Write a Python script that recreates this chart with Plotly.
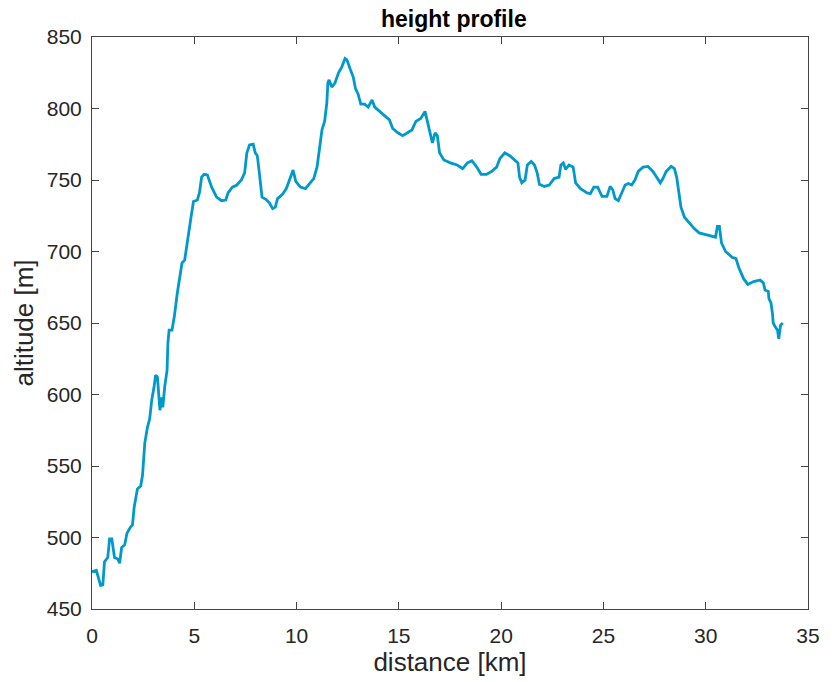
import plotly.graph_objects as go

# Track profile: cumulative distance along the route and the altitude there
distance_km = [
    0, 0.21, 0.42, 0.53, 0.61, 0.77, 0.86, 0.97, 1.1, 1.26,
    1.35, 1.45, 1.6, 1.71, 1.87, 1.98, 2.06, 2.22, 2.38, 2.47,
    2.58, 2.71, 2.82, 2.92, 3.03, 3.11, 3.2, 3.32, 3.41, 3.46,
    3.55, 3.67, 3.71, 3.77, 3.91, 4.03, 4.17, 4.32, 4.4, 4.53,
    4.64, 4.77, 4.84, 4.96, 5.15, 5.25, 5.36, 5.48, 5.64, 5.85,
    6.09, 6.33, 6.54, 6.65, 6.86, 7.08, 7.3, 7.46, 7.57, 7.7,
    7.88, 7.98, 8.08, 8.18, 8.31, 8.5, 8.67, 8.83, 8.96, 9.07,
    9.31, 9.5, 9.71, 9.83, 9.96, 10.19, 10.43, 10.68, 10.84, 11.0,
    11.11, 11.24, 11.37, 11.48, 11.53, 11.59, 11.72, 11.88, 12.05, 12.21,
    12.37, 12.46, 12.61, 12.77, 12.88, 13.01, 13.14, 13.33, 13.5, 13.69,
    13.82, 14.06, 14.22, 14.54, 14.7, 14.95, 15.19, 15.43, 15.64, 15.83,
    16.07, 16.28, 16.39, 16.51, 16.64, 16.77, 16.88, 16.99, 17.2, 17.52,
    17.85, 18.12, 18.35, 18.57, 18.81, 19.02, 19.29, 19.54, 19.78, 19.94,
    20.18, 20.42, 20.66, 20.82, 20.9, 21.01, 21.17, 21.28, 21.47, 21.63,
    21.76, 21.87, 22.11, 22.35, 22.59, 22.83, 22.92, 23.04, 23.15, 23.32,
    23.52, 23.64, 23.88, 24.2, 24.36, 24.53, 24.72, 24.93, 25.17, 25.33,
    25.46, 25.57, 25.73, 25.89, 26.06, 26.22, 26.38, 26.54, 26.7, 26.94,
    27.18, 27.42, 27.62, 27.78, 27.91, 28.07, 28.31, 28.47, 28.58, 28.68,
    28.79, 28.96, 29.2, 29.44, 29.68, 30.0, 30.32, 30.48, 30.57, 30.67,
    30.77, 30.97, 31.29, 31.48, 31.61, 31.85, 32.06, 32.34, 32.66, 32.82,
    32.9, 33.06, 33.09, 33.19, 33.26, 33.3, 33.41, 33.51, 33.57, 33.66,
    33.77,
]

altitude_m = [
    476, 477, 466.5, 467, 483, 486, 499, 499, 486, 485,
    482, 493, 495, 503, 507, 509, 521, 534, 536, 543.5,
    566, 577, 583, 596, 605, 613.5, 612, 589, 598, 591,
    605, 617, 636, 645, 645, 655, 671, 685, 692, 694,
    706, 717, 724, 735, 736, 741, 752, 754, 753.5, 745,
    738, 735.5, 736, 741, 745, 746.5, 750, 755, 769, 774.5,
    775, 769, 767, 755, 738, 736.5, 734, 730, 731, 737,
    740, 744, 752, 757, 749, 745, 744, 748, 751, 759,
    773, 785, 791, 804, 818, 820, 815, 818, 825, 829,
    835, 834, 828, 822, 814, 810, 803, 803, 801, 806,
    801, 798, 795.5, 792, 786, 783, 781, 783, 785, 791,
    793, 798, 791, 785, 776, 783, 781, 769, 764, 762,
    760.5, 758, 762, 763.5, 759, 754, 754, 756, 759, 765,
    769, 767, 764, 762, 752, 748, 750, 760.5, 763, 760.5,
    755, 747, 745.5, 746.5, 751, 752, 760.5, 762, 757.5, 760.5,
    759, 748, 744, 741, 740.5, 745, 745, 738.5, 738.5, 745.5,
    743, 737, 735.5, 740.5, 746.5, 747.5, 746.5, 750, 756, 759,
    759.5, 756, 751, 748, 751, 756, 759.5, 758, 752, 743,
    731, 724, 720, 716, 713, 712, 711, 710, 717.5, 717.5,
    706, 700, 696, 695, 689, 681, 677, 679, 680, 678,
    673, 672, 667, 664, 657, 650, 647, 645, 639, 648.5,
    650,
]

assert len(distance_km) == len(altitude_m)

x_ticks = [0, 5, 10, 15, 20, 25, 30, 35]
y_ticks = [450, 500, 550, 600, 650, 700, 750, 800, 850]

FONT = "Liberation Sans, Arial, Helvetica, sans-serif"
INK = "#262626"
AXIS = "#444444"

fig = go.Figure(
    go.Scatter(
        x=distance_km,
        y=altitude_m,
        mode="lines",
        line=dict(color="#0099CC", width=2.8),
        hoverinfo="x+y",
    )
)

axis_common = dict(
    showgrid=False,
    zeroline=False,
    showline=True,
    linecolor=AXIS,
    linewidth=1,
    mirror="ticks",
    ticks="inside",
    ticklen=7,
    tickwidth=1,
    tickcolor=AXIS,
    tickfont=dict(family=FONT, size=21, color=INK),
)

fig.update_layout(
    width=832,
    height=682,
    margin=dict(l=92, r=16, t=37, b=73),
    paper_bgcolor="white",
    plot_bgcolor="white",
    showlegend=False,
    title=dict(
        text="<b>height profile</b>",
        font=dict(family=FONT, size=23, color="black"),
        x=0.5455,
        xanchor="center",
        y=0.972,
        yanchor="middle",
    ),
    xaxis=dict(
        range=[0, 35],
        tickvals=x_ticks,
        ticklabelstandoff=8,
        title=dict(text="distance [km]", font=dict(family=FONT, size=26, color=INK), standoff=4),
        **axis_common,
    ),
    yaxis=dict(
        range=[450, 850],
        tickvals=y_ticks,
        ticklabelstandoff=5,
        title=dict(text="altitude [m]", font=dict(family=FONT, size=26, color=INK), standoff=5),
        **axis_common,
    ),
)

fig.write_html("out.html")
